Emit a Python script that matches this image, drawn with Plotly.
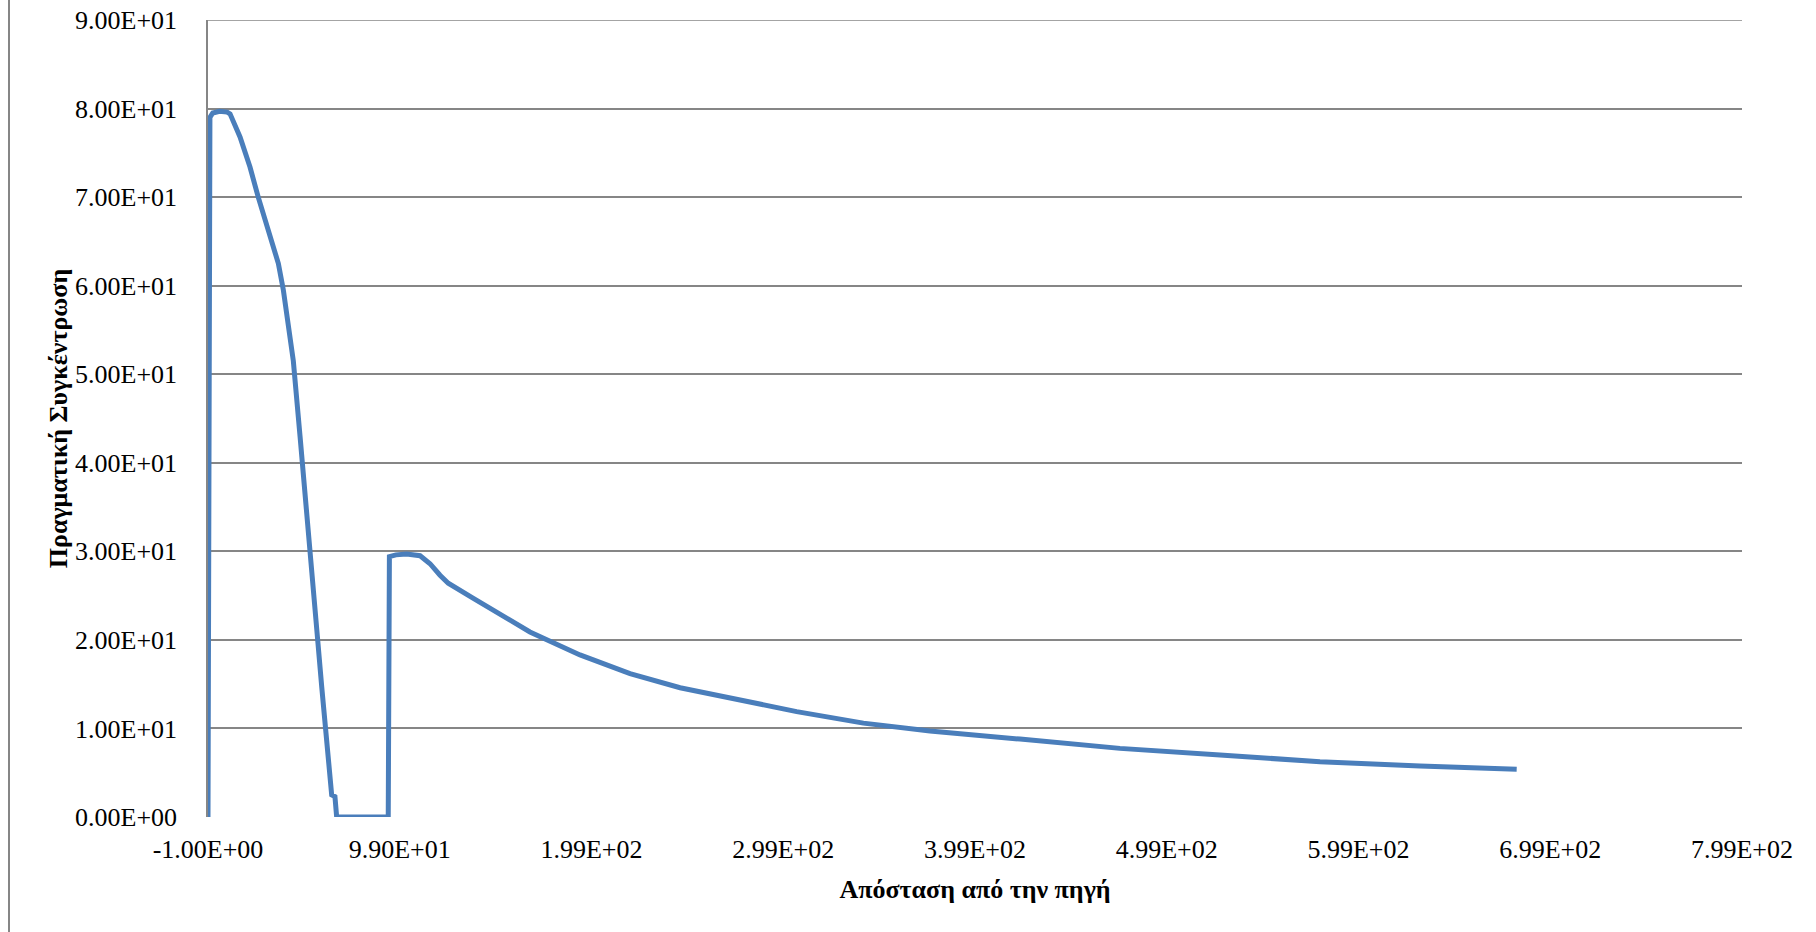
import plotly.graph_objects as go

# Data
distance = [-1, 0, 1.5, 5, 9, 10.5, 15.7, 20.9, 25.2, 31.3, 35.7, 38.3, 40.9, 43.5,
            47.0, 50.6, 52.2, 54.8, 56.2, 58.3, 60.5, 62.3, 63.5, 65.2, 66.1,
            93.0, 93.6, 97.0, 102.6, 109.6, 114.8, 120.0, 124.3, 137.4, 147.8,
            156.5, 166.9, 193.0, 219.1, 245.2, 271.2, 306.0, 340.8, 375.5,
            422.5, 474.6, 526.8, 578.9, 631.1, 681.5]
concentration = [0.0, 79.0, 79.5, 79.7, 79.6, 79.4, 76.8, 73.4, 70.0, 65.9, 62.5, 59.5, 55.7, 51.5,
                 43.0, 33.5, 29.9, 22.2, 20.0, 14.7, 9.9, 4.9, 2.5, 2.3, 0.0,
                 0.0, 29.4, 29.6, 29.7, 29.5, 28.6, 27.3, 26.4, 24.7, 23.4,
                 22.2, 20.9, 18.3, 16.2, 14.6, 13.4, 11.9, 10.6, 9.7,
                 8.8, 7.75, 7.0, 6.24, 5.76, 5.38]

x_tick_vals = [-1, 99, 199, 299, 399, 499, 599, 699, 799]
x_tick_text = ["-1.00E+00", "9.90E+01", "1.99E+02", "2.99E+02", "3.99E+02",
               "4.99E+02", "5.99E+02", "6.99E+02", "7.99E+02"]
y_tick_vals = [0, 10, 20, 30, 40, 50, 60, 70, 80, 90]
y_tick_text = ["0.00E+00", "1.00E+01", "2.00E+01", "3.00E+01", "4.00E+01",
               "5.00E+01", "6.00E+01", "7.00E+01", "8.00E+01", "9.00E+01"]

x_title = "Απόσταση από την πηγή"
y_title = "Πραγματική Συγκέντρωση"

W, H = 1816, 932
ML, MR, MT, MB = 208, 74, 20, 115
FONT = "Liberation Serif, Times New Roman, serif"
GRID = "#868686"

fig = go.Figure()
fig.add_trace(go.Scatter(
    x=distance, y=concentration, mode="lines",
    line=dict(color="#4A7EBB", width=5),
    showlegend=False, hoverinfo="x+y"))

fig.update_layout(
    width=W, height=H,
    margin=dict(l=ML, r=MR, t=MT, b=MB, pad=0, autoexpand=False),
    paper_bgcolor="white", plot_bgcolor="white",
    font=dict(family=FONT, size=26, color="black"),
    xaxis=dict(
        range=[x_tick_vals[0], x_tick_vals[-1]], tickmode="array",
        tickvals=x_tick_vals, ticktext=x_tick_text, automargin=False,
        showgrid=False, zeroline=False, showline=False, ticks="",
        ticklabelstandoff=14,
        tickfont=dict(family=FONT, size=26, color="black"),
        title=dict(text="<b>" + x_title + "</b>", font=dict(family=FONT, size=26, color="black"),
                   standoff=16),
    ),
    yaxis=dict(
        range=[y_tick_vals[0], y_tick_vals[-1]], tickmode="array",
        tickvals=y_tick_vals, ticktext=y_tick_text, automargin=False,
        showgrid=True, gridcolor=GRID, gridwidth=1.5,
        zeroline=False, showline=True, linecolor=GRID, linewidth=1.5, ticks="",
        ticklabelstandoff=24,
        tickfont=dict(family=FONT, size=26, color="black"),
        title=dict(text="<b>" + y_title + "</b>", font=dict(family=FONT, size=26, color="black"),
                   standoff=0),
    ),
)

# Top gridline (at the range edge) so it is always drawn
fig.add_shape(type="line", xref="paper", yref="y", layer="below",
              x0=0, x1=1, y0=y_tick_vals[-1], y1=y_tick_vals[-1],
              line=dict(color=GRID, width=1.5))

# Chart frame left edge (visible in the reference)
plot_w = W - ML - MR
plot_h = H - MT - MB
fig.add_shape(type="line", xref="paper", yref="paper",
              x0=(9 - ML) / plot_w, x1=(9 - ML) / plot_w,
              y0=-MB / plot_h, y1=(plot_h + MT) / plot_h,
              line=dict(color=GRID, width=2))

fig.write_html("out.html", config={"displayModeBar": False},
               post_script="document.body.style.margin='0';document.body.style.overflow='hidden';")
